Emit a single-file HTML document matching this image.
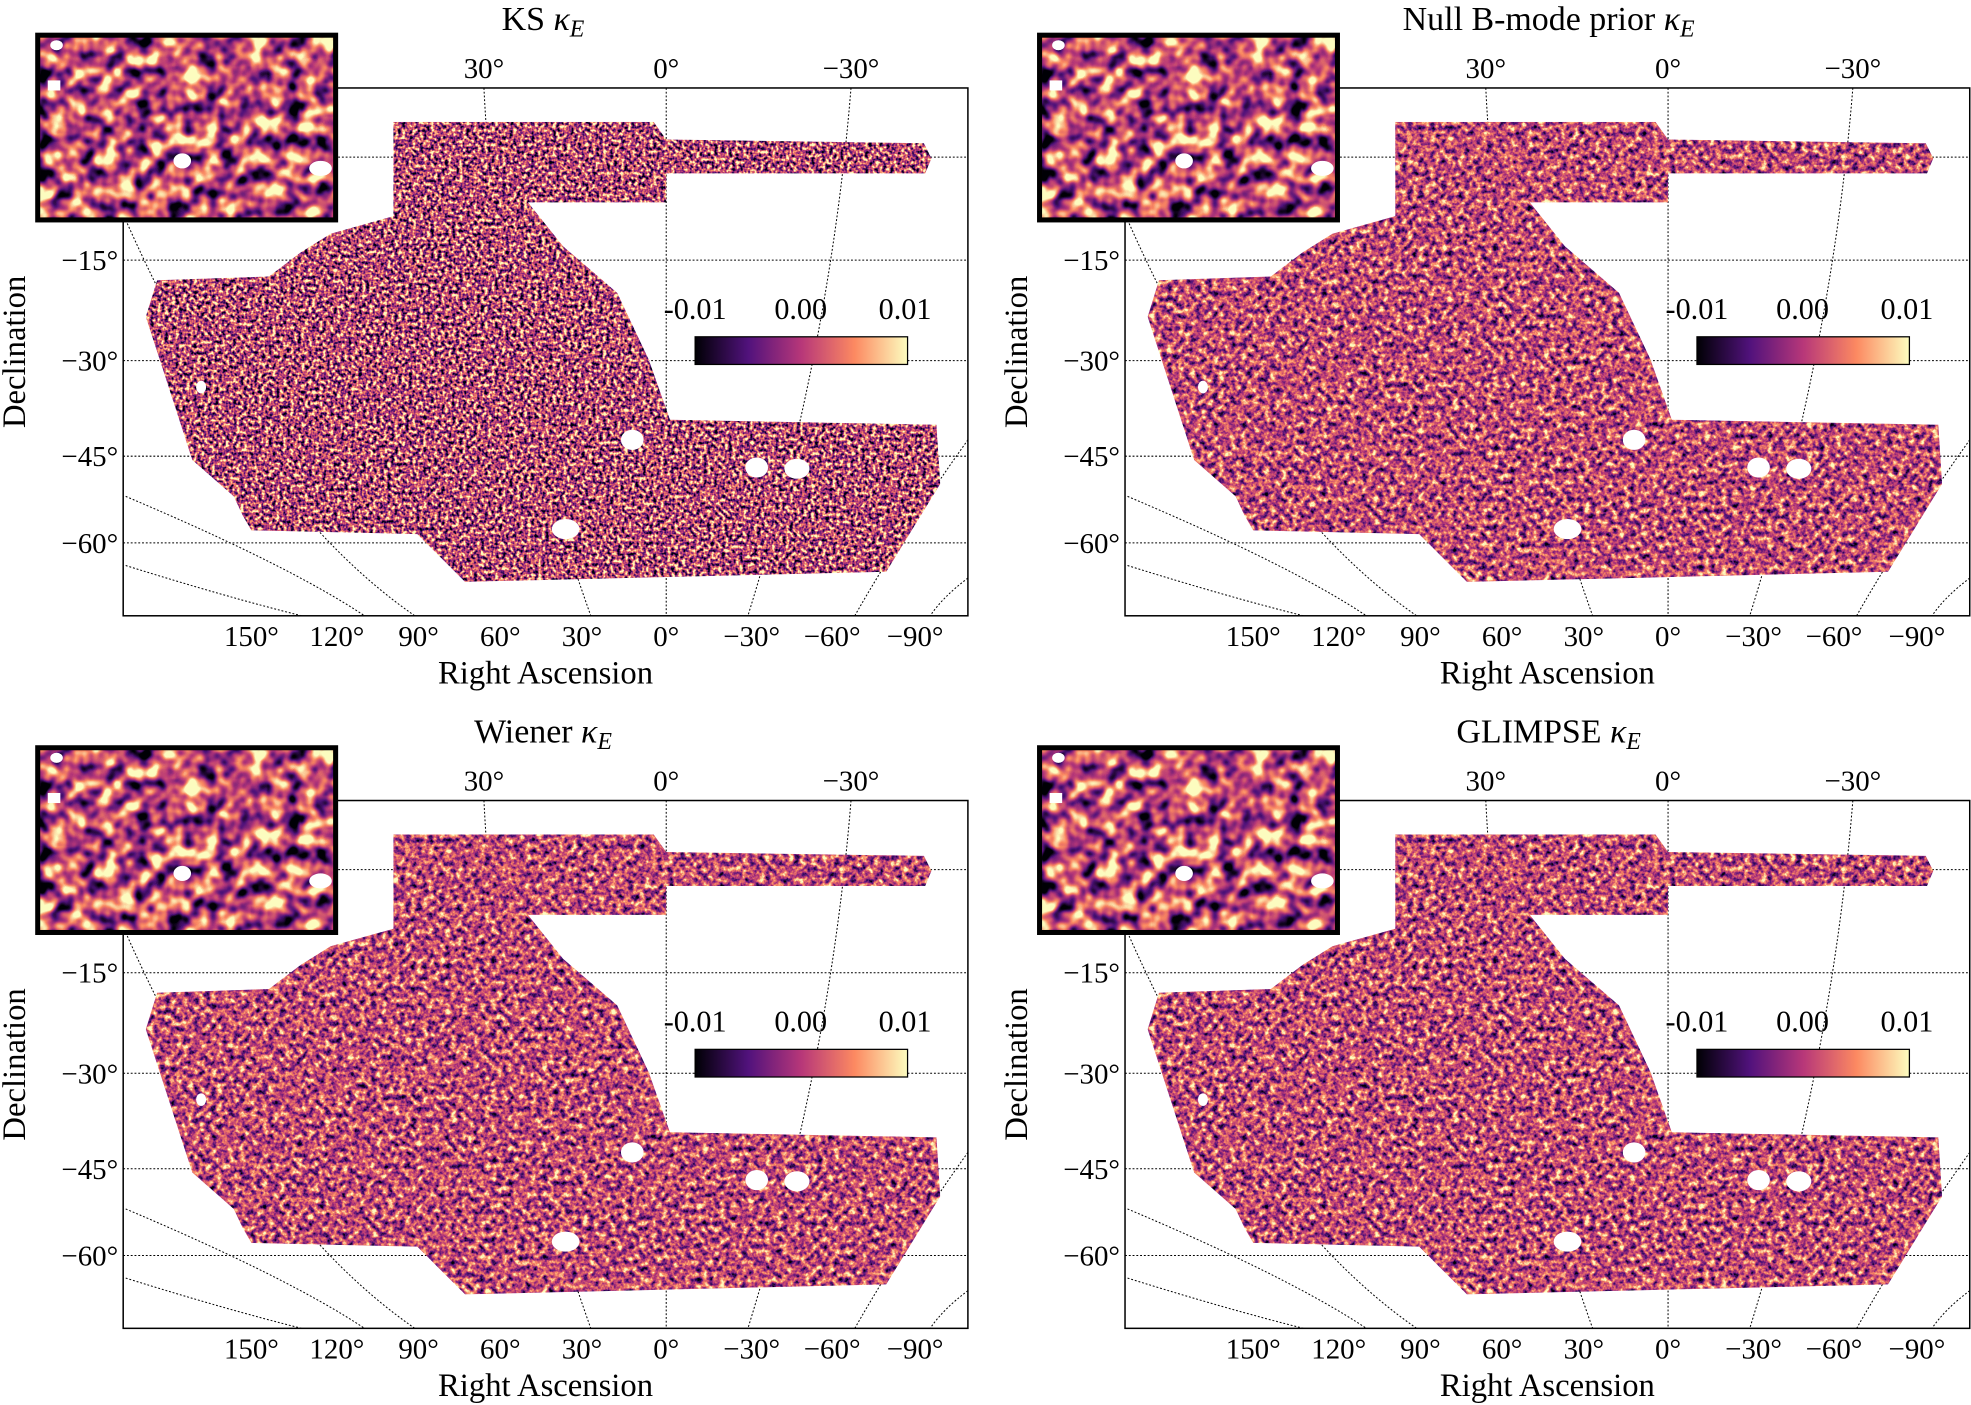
<!DOCTYPE html>
<html><head><meta charset="utf-8"><style>
html,body{margin:0;padding:0;background:#fff;}
svg{display:block;}
text{font-family:"Liberation Serif",serif;fill:#000;}
</style></head><body>
<svg width="1971" height="1405" viewBox="0 0 1568 1118" preserveAspectRatio="none" xmlns="http://www.w3.org/2000/svg">
<defs>
<filter id="fks" x="0" y="0" width="100%" height="100%" color-interpolation-filters="sRGB">
<feTurbulence type="fractalNoise" baseFrequency="0.35" numOctaves="2" seed="3"/>
<feColorMatrix type="matrix" values="1 0 0 0 0 1 0 0 0 0 1 0 0 0 0 0 0 0 0 1"/>
<feComponentTransfer><feFuncR type="linear" slope="2.3" intercept="-0.62"/><feFuncG type="linear" slope="2.3" intercept="-0.62"/><feFuncB type="linear" slope="2.3" intercept="-0.62"/></feComponentTransfer>
<feComponentTransfer><feFuncR type="table" tableValues="0 0.31 0.72 0.98 0.99"/><feFuncG type="table" tableValues="0 0.07 0.22 0.53 0.99"/><feFuncB type="table" tableValues="0.02 0.48 0.47 0.38 0.75"/><feFuncA type="table" tableValues="1 1"/></feComponentTransfer>
</filter>
<filter id="fsm" x="0" y="0" width="100%" height="100%" color-interpolation-filters="sRGB">
<feTurbulence type="fractalNoise" baseFrequency="0.22" numOctaves="3" seed="7"/>
<feColorMatrix type="matrix" values="1 0 0 0 0 1 0 0 0 0 1 0 0 0 0 0 0 0 0 1"/>
<feComponentTransfer><feFuncR type="linear" slope="1.7" intercept="-0.3"/><feFuncG type="linear" slope="1.7" intercept="-0.3"/><feFuncB type="linear" slope="1.7" intercept="-0.3"/></feComponentTransfer>
<feComponentTransfer><feFuncR type="table" tableValues="0 0.31 0.72 0.98 0.99"/><feFuncG type="table" tableValues="0 0.07 0.22 0.53 0.99"/><feFuncB type="table" tableValues="0.02 0.48 0.47 0.38 0.75"/><feFuncA type="table" tableValues="1 1"/></feComponentTransfer>
</filter>
<filter id="fin" x="0" y="0" width="100%" height="100%" color-interpolation-filters="sRGB">
<feTurbulence type="fractalNoise" baseFrequency="0.075" numOctaves="2" seed="11"/>
<feColorMatrix type="matrix" values="1 0 0 0 0 1 0 0 0 0 1 0 0 0 0 0 0 0 0 1"/>
<feComponentTransfer><feFuncR type="linear" slope="2.2" intercept="-0.55"/><feFuncG type="linear" slope="2.2" intercept="-0.55"/><feFuncB type="linear" slope="2.2" intercept="-0.55"/></feComponentTransfer>
<feComponentTransfer><feFuncR type="table" tableValues="0 0.31 0.72 0.98 0.99"/><feFuncG type="table" tableValues="0 0.07 0.22 0.53 0.99"/><feFuncB type="table" tableValues="0.02 0.48 0.47 0.38 0.75"/><feFuncA type="table" tableValues="1 1"/></feComponentTransfer>
</filter>
<linearGradient id="magma" x1="0" x2="1" y1="0" y2="0">
<stop offset="0" stop-color="#000004"/><stop offset="0.25" stop-color="#51127c"/><stop offset="0.5" stop-color="#b73779"/><stop offset="0.75" stop-color="#fc8961"/><stop offset="1" stop-color="#fcfdbf"/>
</linearGradient>
<clipPath id="shape"><path d="M313,97 L520,97 L530,111 L735,114 L741,126 L736,138 L530,138 L530,161 L420,161 L448,196 L491,233 L516,286 L533,334 L745,338 L748,385 L705,455 L370,463 L332,425 L200,422 L193,410 L186,395 L153,366 L116,252 L125,223 L214,220 L239,201 L263,186 L313,172 Z"/></clipPath>
<g id="frame">
<g stroke="#000" stroke-width="0.8" stroke-dasharray="1.5,1.5" fill="none">
<line x1="98" y1="125" x2="770" y2="125"/><line x1="98" y1="207" x2="770" y2="207"/><line x1="98" y1="287" x2="770" y2="287"/><line x1="98" y1="363" x2="770" y2="363"/><line x1="98" y1="432" x2="770" y2="432"/>
<line x1="530" y1="70" x2="530" y2="490"/>
<path d="M385,70 Q395,280 470,490"/><path d="M677,70 Q660,280 595,490"/>
<path d="M100,175 Q200,400 330,490"/><path d="M100,395 Q230,450 290,490"/><path d="M100,450 Q180,475 240,490"/>
<path d="M770,350 Q720,420 680,490"/><path d="M770,460 Q750,475 740,490"/>
</g>
<rect x="98" y="70" width="672" height="420" fill="none" stroke="#000" stroke-width="1.2"/>
<g font-size="23" text-anchor="middle">
<text x="385" y="62">30°</text><text x="530" y="62">0°</text><text x="677" y="62">−30°</text>
<text x="200" y="514">150°</text><text x="268" y="514">120°</text><text x="333" y="514">90°</text><text x="398" y="514">60°</text><text x="463" y="514">30°</text><text x="530" y="514">0°</text><text x="598" y="514">−30°</text><text x="662" y="514">−60°</text><text x="728" y="514">−90°</text>
<text x="434" y="544" font-size="26">Right Ascension</text>
<text transform="translate(20,280) rotate(-90)" font-size="26">Declination</text>
</g>
<g font-size="23" text-anchor="end">
<text x="94" y="215">−15°</text><text x="94" y="295">−30°</text><text x="94" y="371">−45°</text><text x="94" y="440">−60°</text>
</g>
<rect x="553" y="268" width="169" height="22" fill="url(#magma)" stroke="#000" stroke-width="1"/>
<g font-size="24" text-anchor="middle"><text x="553" y="254">-0.01</text><text x="637" y="254">0.00</text><text x="720" y="254">0.01</text></g>
</g>
<g id="holes" fill="#fff">
<ellipse cx="503" cy="350" rx="9" ry="8"/><ellipse cx="602" cy="372" rx="9" ry="8"/><ellipse cx="634" cy="373" rx="10" ry="8"/><ellipse cx="450" cy="421" rx="11" ry="8"/><ellipse cx="160" cy="308" rx="4" ry="5"/>
</g>
<g id="inholes" fill="#fff"><ellipse cx="145" cy="128" rx="7" ry="6"/><ellipse cx="255" cy="134" rx="9" ry="6"/><rect x="38" y="64" width="10" height="8"/><ellipse cx="45" cy="36" rx="5" ry="4"/></g>
</defs>

<g>
<use href="#frame"/>
<rect x="110" y="90" width="645" height="380" filter="url(#fks)" clip-path="url(#shape)"/>
<use href="#holes"/>
<rect x="30" y="28" width="237" height="147" filter="url(#fin)"/>
<use href="#inholes"/>
<rect x="30" y="28" width="237" height="147" fill="none" stroke="#000" stroke-width="4"/>
<text x="432" y="24" font-size="27" text-anchor="middle">KS <tspan font-style="italic">κ</tspan><tspan font-style="italic" font-size="19" dy="5">E</tspan></text>
</g>
<g transform="translate(797,0)">
<use href="#frame"/>
<rect x="110" y="90" width="645" height="380" filter="url(#fsm)" clip-path="url(#shape)"/>
<use href="#holes"/>
<rect x="30" y="28" width="237" height="147" filter="url(#fin)"/>
<use href="#inholes"/>
<rect x="30" y="28" width="237" height="147" fill="none" stroke="#000" stroke-width="4"/>
<text x="435" y="24" font-size="27" text-anchor="middle">Null B-mode prior <tspan font-style="italic">κ</tspan><tspan font-style="italic" font-size="19" dy="5">E</tspan></text>
</g>
<g transform="translate(0,567)">
<use href="#frame"/>
<rect x="110" y="90" width="645" height="380" filter="url(#fsm)" clip-path="url(#shape)"/>
<use href="#holes"/>
<rect x="30" y="28" width="237" height="147" filter="url(#fin)"/>
<use href="#inholes"/>
<rect x="30" y="28" width="237" height="147" fill="none" stroke="#000" stroke-width="4"/>
<text x="432" y="24" font-size="27" text-anchor="middle">Wiener <tspan font-style="italic">κ</tspan><tspan font-style="italic" font-size="19" dy="5">E</tspan></text>
</g>
<g transform="translate(797,567)">
<use href="#frame"/>
<rect x="110" y="90" width="645" height="380" filter="url(#fsm)" clip-path="url(#shape)"/>
<use href="#holes"/>
<rect x="30" y="28" width="237" height="147" filter="url(#fin)"/>
<use href="#inholes"/>
<rect x="30" y="28" width="237" height="147" fill="none" stroke="#000" stroke-width="4"/>
<text x="435" y="24" font-size="27" text-anchor="middle">GLIMPSE <tspan font-style="italic">κ</tspan><tspan font-style="italic" font-size="19" dy="5">E</tspan></text>
</g>
</svg>
</body></html>
